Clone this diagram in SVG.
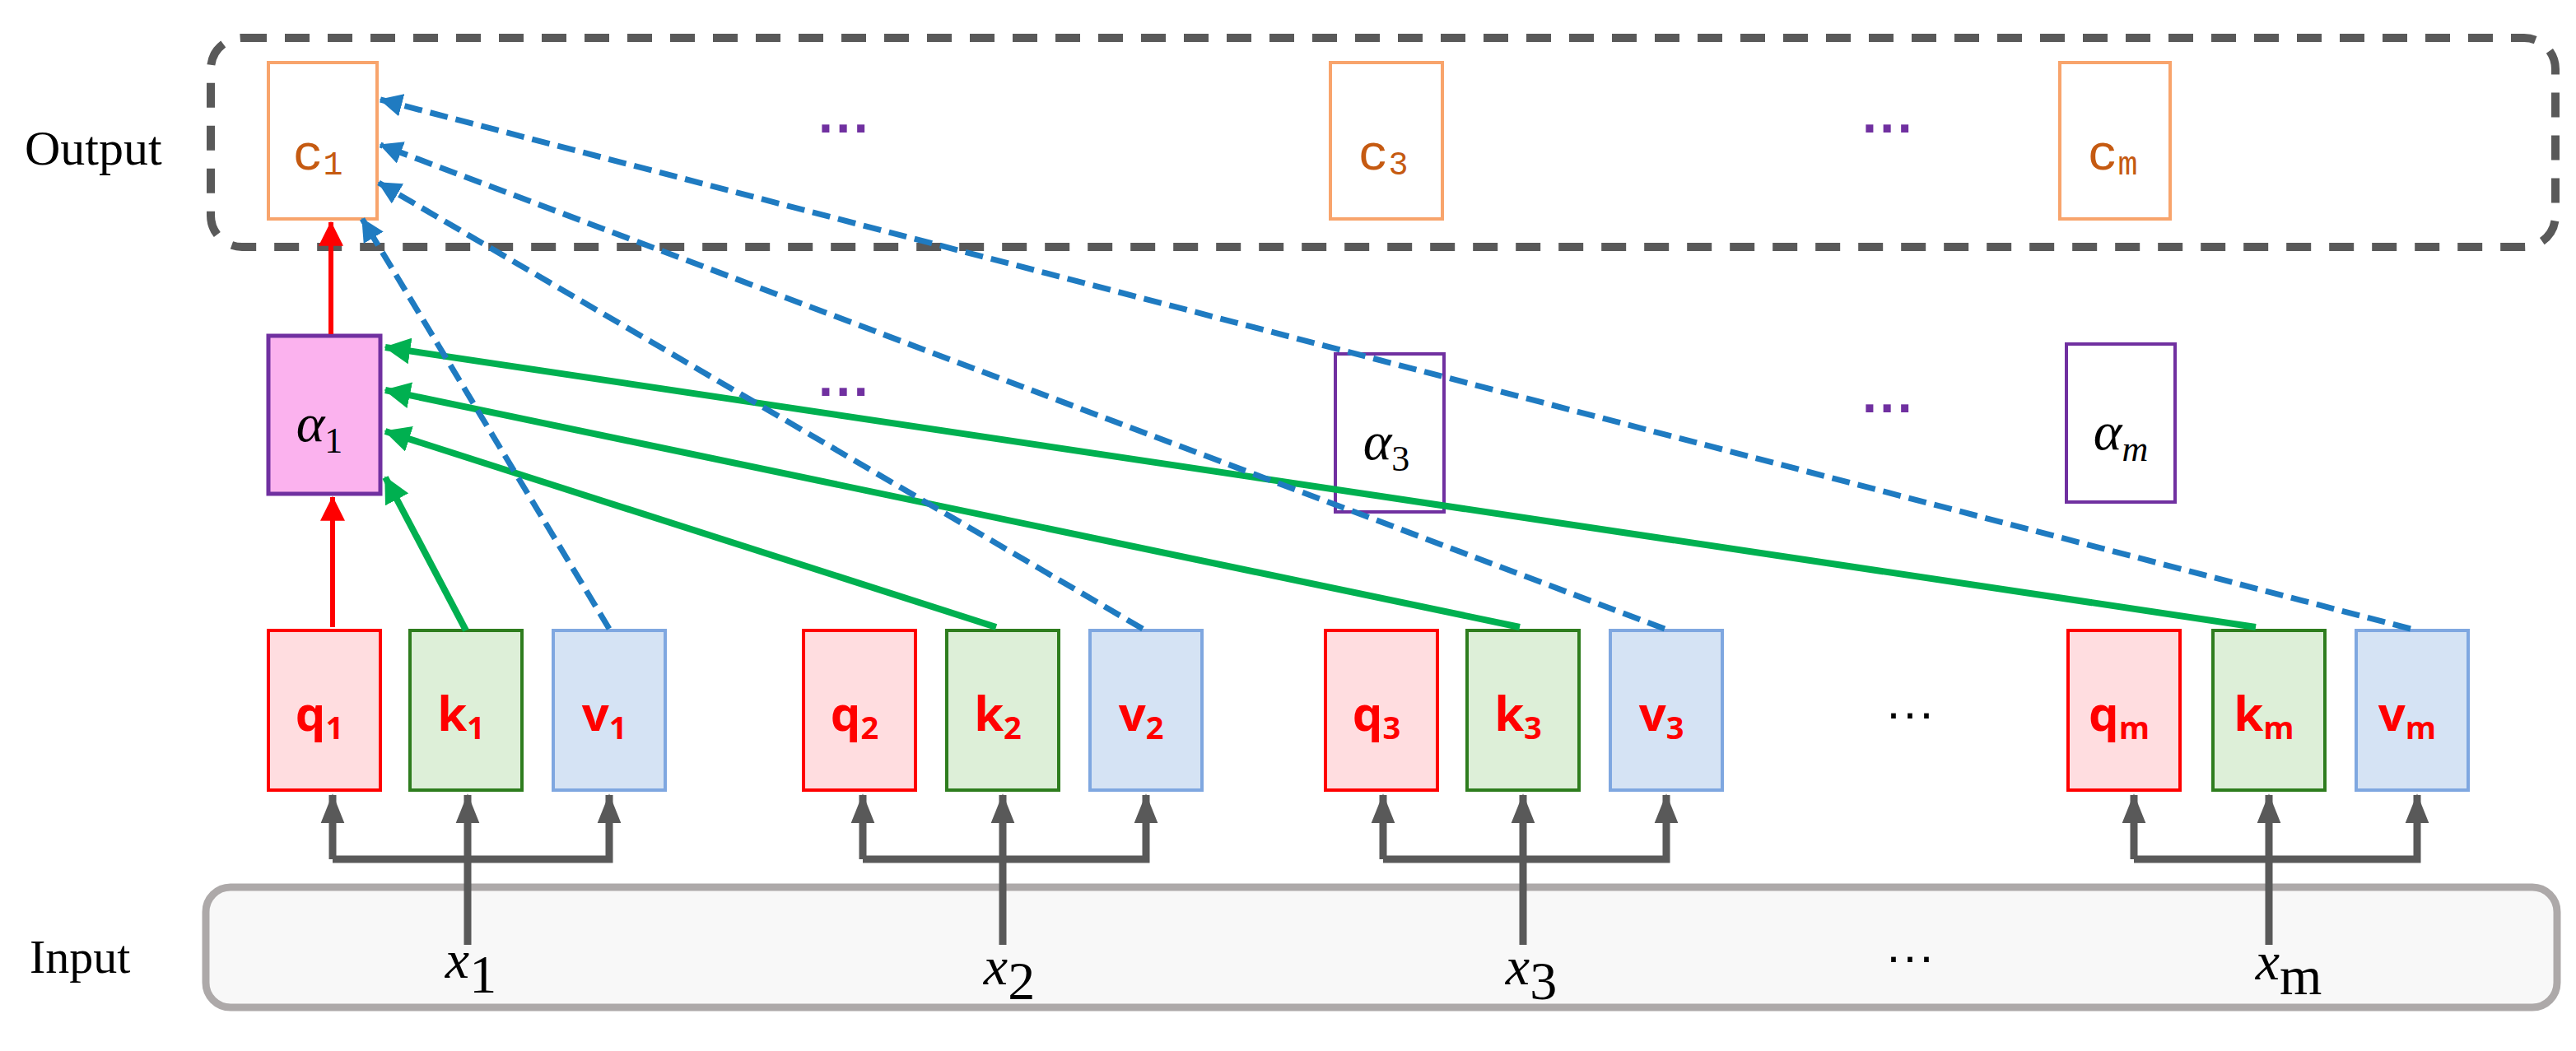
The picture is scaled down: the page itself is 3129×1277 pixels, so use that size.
<svg xmlns="http://www.w3.org/2000/svg" width="3129" height="1277" viewBox="0 0 3129 1277">
<style>
.q{fill:#FFDDE0;stroke:#FF0000;stroke-width:4}
.k{fill:#DDEFD8;stroke:#2E7D1E;stroke-width:4}
.v{fill:#D5E3F4;stroke:#7FA7E0;stroke-width:4}
.c{fill:#fff;stroke:#F8A46C;stroke-width:4}
.a{fill:#fff;stroke:#7030A0;stroke-width:4}
.lab{font-family:"Open Sans","Liberation Sans",sans-serif;font-weight:bold;font-size:58px;fill:#FF0000;text-anchor:middle}
.ser{font-family:"Liberation Serif",serif}
.cl{font-family:"Liberation Mono",monospace;font-size:62px;fill:#C55A11;text-anchor:middle}
.al{font-family:"Liberation Serif",serif;font-style:italic;font-size:66px;fill:#000;text-anchor:middle}
.dots{font-family:"Liberation Sans",sans-serif;font-size:64px;fill:#7030A0;text-anchor:middle;font-weight:bold}
.gr{stroke:#595959;stroke-width:9;fill:none}
.red{stroke:#FF0000;stroke-width:6;fill:none}
.grn{stroke:#00B050;stroke-width:8;fill:none}
.blu{stroke:#1F7BC1;stroke-width:7;fill:none;stroke-dasharray:22 10}
</style>
<defs>
<marker id="mg" markerWidth="4" markerHeight="4" refX="3.8" refY="2" orient="auto" markerUnits="strokeWidth"><path d="M0,0.4 L4,2 L0,3.6 Z" fill="#595959"/></marker>
<marker id="mr" markerWidth="5" markerHeight="5" refX="4.8" refY="2.5" orient="auto" markerUnits="strokeWidth"><path d="M0,0 L5,2.5 L0,5 Z" fill="#FF0000"/></marker>
<marker id="mgn" markerWidth="4" markerHeight="4" refX="3.8" refY="2" orient="auto" markerUnits="strokeWidth"><path d="M0,0 L4,2 L0,4 Z" fill="#00B050"/></marker>
<marker id="mb" markerWidth="4" markerHeight="4" refX="3.8" refY="2" orient="auto" markerUnits="strokeWidth"><path d="M0,0 L4,2 L0,4 Z" fill="#1F7BC1"/></marker>
</defs>
<rect width="3129" height="1277" fill="#fff"/>
<g id="output-frame"><rect x="256" y="46" width="2848" height="254" rx="38" fill="none" stroke="#595959" stroke-width="10" stroke-dasharray="30 22"/>
<text x="30" y="200" class="ser" font-size="60">Output</text></g>
<g id="input-frame"><rect x="250" y="1078" width="2856" height="146" rx="30" fill="#F8F8F8" stroke="#ADA9A9" stroke-width="9"/>
<text x="36" y="1182" class="ser" font-size="58">Input</text></g>
<g id="c1"><rect class="c" x="326" y="76" width="132" height="190"/><text class="cl" x="386" y="206">c<tspan font-size="40" dy="6">1</tspan></text></g>
<g id="c3"><rect class="c" x="1616" y="76" width="136" height="190"/><text class="cl" x="1680" y="206">c<tspan font-size="40" dy="6">3</tspan></text></g>
<g id="cm"><rect class="c" x="2502" y="76" width="134" height="190"/><text class="cl" x="2566" y="206">c<tspan font-size="40" dy="6">m</tspan></text></g>
<g id="dots"><text class="dots" x="1026" y="178">···</text><text class="dots" x="2294" y="178">···</text>
<text class="dots" x="1026" y="498">···</text><text class="dots" x="2294" y="518">···</text>
<text x="2320" y="886" font-family="Liberation Sans,sans-serif" font-size="60" text-anchor="middle">···</text>
<text x="2320" y="1182" font-family="Liberation Sans,sans-serif" font-size="60" text-anchor="middle">···</text></g>
<g id="a1"><rect x="326" y="408" width="136" height="192" fill="#FBB2EE" stroke="#7030A0" stroke-width="5"/><text class="al" x="388" y="536">α<tspan font-style="normal" font-size="44" dy="14">1</tspan></text></g>
<g id="a3"><rect class="a" x="1622" y="430" width="132" height="192"/><text class="al" x="1684" y="558">α<tspan font-style="normal" font-size="44" dy="14">3</tspan></text></g>
<g id="am"><rect class="a" x="2510" y="418" width="132" height="192"/><text class="al" x="2576" y="546">α<tspan font-size="44" dy="14">m</tspan></text></g>
<g id="q1"><rect class="q" x="326" y="766" width="136" height="194"/><text class="lab" x="388" y="888">q<tspan font-size="38" dy="10">1</tspan></text></g>
<g id="k1"><rect class="k" x="498" y="766" width="136" height="194"/><text class="lab" x="560" y="888">k<tspan font-size="38" dy="10">1</tspan></text></g>
<g id="v1"><rect class="v" x="672" y="766" width="136" height="194"/><text class="lab" x="734" y="888">v<tspan font-size="38" dy="10">1</tspan></text></g>
<g id="q2"><rect class="q" x="976" y="766" width="136" height="194"/><text class="lab" x="1038" y="888">q<tspan font-size="38" dy="10">2</tspan></text></g>
<g id="k2"><rect class="k" x="1150" y="766" width="136" height="194"/><text class="lab" x="1212" y="888">k<tspan font-size="38" dy="10">2</tspan></text></g>
<g id="v2"><rect class="v" x="1324" y="766" width="136" height="194"/><text class="lab" x="1386" y="888">v<tspan font-size="38" dy="10">2</tspan></text></g>
<g id="q3"><rect class="q" x="1610" y="766" width="136" height="194"/><text class="lab" x="1672" y="888">q<tspan font-size="38" dy="10">3</tspan></text></g>
<g id="k3"><rect class="k" x="1782" y="766" width="136" height="194"/><text class="lab" x="1844" y="888">k<tspan font-size="38" dy="10">3</tspan></text></g>
<g id="v3"><rect class="v" x="1956" y="766" width="136" height="194"/><text class="lab" x="2018" y="888">v<tspan font-size="38" dy="10">3</tspan></text></g>
<g id="qm"><rect class="q" x="2512" y="766" width="136" height="194"/><text class="lab" x="2574" y="888">q<tspan font-size="38" dy="10">m</tspan></text></g>
<g id="km"><rect class="k" x="2688" y="766" width="136" height="194"/><text class="lab" x="2750" y="888">k<tspan font-size="38" dy="10">m</tspan></text></g>
<g id="vm"><rect class="v" x="2862" y="766" width="136" height="194"/><text class="lab" x="2924" y="888">v<tspan font-size="38" dy="10">m</tspan></text></g>
<g id="inputs">
<text class="al" x="572" y="1188" font-size="92">x<tspan font-style="normal" font-size="66" dy="18">1</tspan></text>
<text class="al" x="1226" y="1196" font-size="92">x<tspan font-style="normal" font-size="66" dy="18">2</tspan></text>
<text class="al" x="1860" y="1196" font-size="92">x<tspan font-style="normal" font-size="66" dy="18">3</tspan></text>
<text class="al" x="2780" y="1190" font-size="92">x<tspan font-style="normal" font-size="66" dy="18">m</tspan></text>
</g>
<g id="connectors">
<path class="gr" d="M404,1044 H740 V966" marker-end="url(#mg)"/>
<path class="gr" d="M404,1044 V966" marker-end="url(#mg)"/>
<path class="gr" d="M568,1148 V966" marker-end="url(#mg)"/>
<path class="gr" d="M1048,1044 H1392 V966" marker-end="url(#mg)"/>
<path class="gr" d="M1048,1044 V966" marker-end="url(#mg)"/>
<path class="gr" d="M1218,1148 V966" marker-end="url(#mg)"/>
<path class="gr" d="M1680,1044 H2024 V966" marker-end="url(#mg)"/>
<path class="gr" d="M1680,1044 V966" marker-end="url(#mg)"/>
<path class="gr" d="M1850,1148 V966" marker-end="url(#mg)"/>
<path class="gr" d="M2592,1044 H2936 V966" marker-end="url(#mg)"/>
<path class="gr" d="M2592,1044 V966" marker-end="url(#mg)"/>
<path class="gr" d="M2756,1148 V966" marker-end="url(#mg)"/>
<path class="red" d="M404,762 V604" marker-end="url(#mr)"/>
<path class="red" d="M402,406 V270" marker-end="url(#mr)"/>
<path class="grn" d="M566,766 L468,580" marker-end="url(#mgn)"/>
<path class="grn" d="M1210,762 L468,524" marker-end="url(#mgn)"/>
<path class="grn" d="M1846,762 L468,474" marker-end="url(#mgn)"/>
<path class="grn" d="M2740,762 L468,422" marker-end="url(#mgn)"/>
<path class="blu" d="M740,764 L440,266" marker-end="url(#mb)"/>
<path class="blu" d="M1388,764 L460,222" marker-end="url(#mb)"/>
<path class="blu" d="M2022,764 L462,176" marker-end="url(#mb)"/>
<path class="blu" d="M2928,764 L462,121" marker-end="url(#mb)"/>
</g>
</svg>
